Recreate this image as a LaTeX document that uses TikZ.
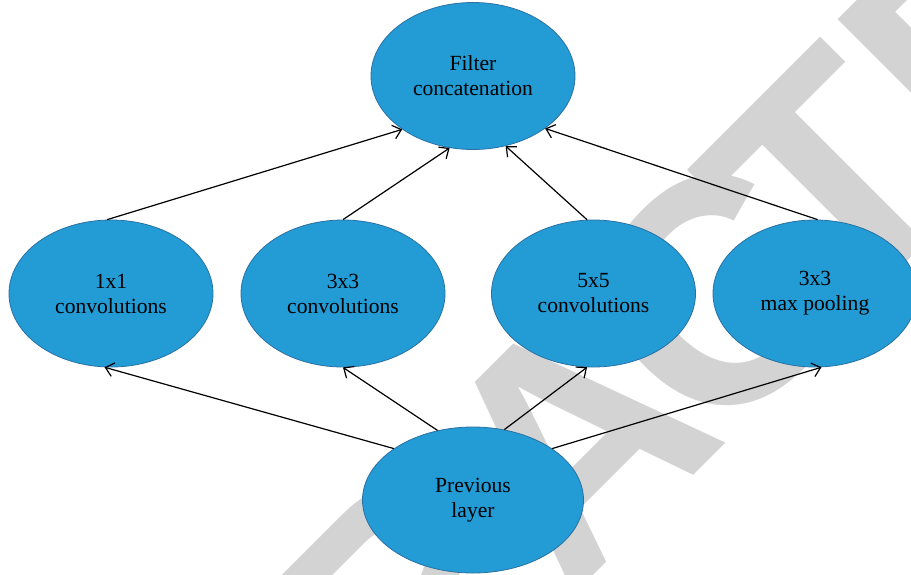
\documentclass[tikz,border=0pt]{standalone}
\usepackage{fontspec}
\setmainfont{Liberation Serif}
\newfontfamily\stampfont{Liberation Sans}
\usetikzlibrary{arrows.meta}
\usetikzlibrary{shapes.geometric}
\usetikzlibrary{positioning}

\definecolor{unitblue}{RGB}{35,156,214}
\definecolor{unitedge}{RGB}{41,112,163}
\definecolor{stampgray}{RGB}{211,211,211}

\tikzset{
  unit/.style={ellipse, draw=unitedge, line width=0.4pt, fill=unitblue,
    minimum width=102pt, minimum height=73.5pt, inner sep=0pt,
    align=center, font=\fontsize{10.8}{12.5}\selectfont},
  link/.style={-{Straight Barb[length=4pt,width=7pt]}, line width=0.6pt}
}

\begin{document}
\begin{tikzpicture}[x=0.5pt, y=-0.5pt]
  \useasboundingbox (0,0) rectangle (911,574);

  % stamp behind everything
  \node[rotate=45, anchor=base west, text=stampgray, inner sep=0pt,
    font=\stampfont\bfseries\fontsize{160}{160}\selectfont] (stamp) at (-48,1217)
    {RETRA\kern-12pt C\kern-26.5pt TED};

  \node[unit] (filter) at (473,76) {Filter\\concatenation};
  \node[unit] (c1) at (111,293.5) {1x1\\convolutions};
  \node[unit, right of=c1, node distance=116pt] (c3) {3x3\\convolutions};
  \node[unit, right of=c3, node distance=125.25pt] (c5) {5x5\\convolutions};
  \node[unit, right of=c5, node distance=110.75pt] (pool) {3x3\\max pooling};
  \node[unit, minimum width=110.5pt, minimum height=73pt,
    below of=filter, node distance=212pt] (prev) {Previous\\layer};

  \draw[link] (c1.93) -- (filter.217);
  \draw[link] (c3.north) -- (filter.252);
  \draw[link] (c5.95) -- (filter.295);
  \draw[link] (pool.88) -- (filter.324);

  \draw[link] (prev.147) -- (c1.265);
  \draw[link] (prev.117) -- (c3.south);
  \draw[link] (prev.66) -- (c5.265);
  \draw[link] (prev.33) -- (pool.275);
\end{tikzpicture}
\end{document}
